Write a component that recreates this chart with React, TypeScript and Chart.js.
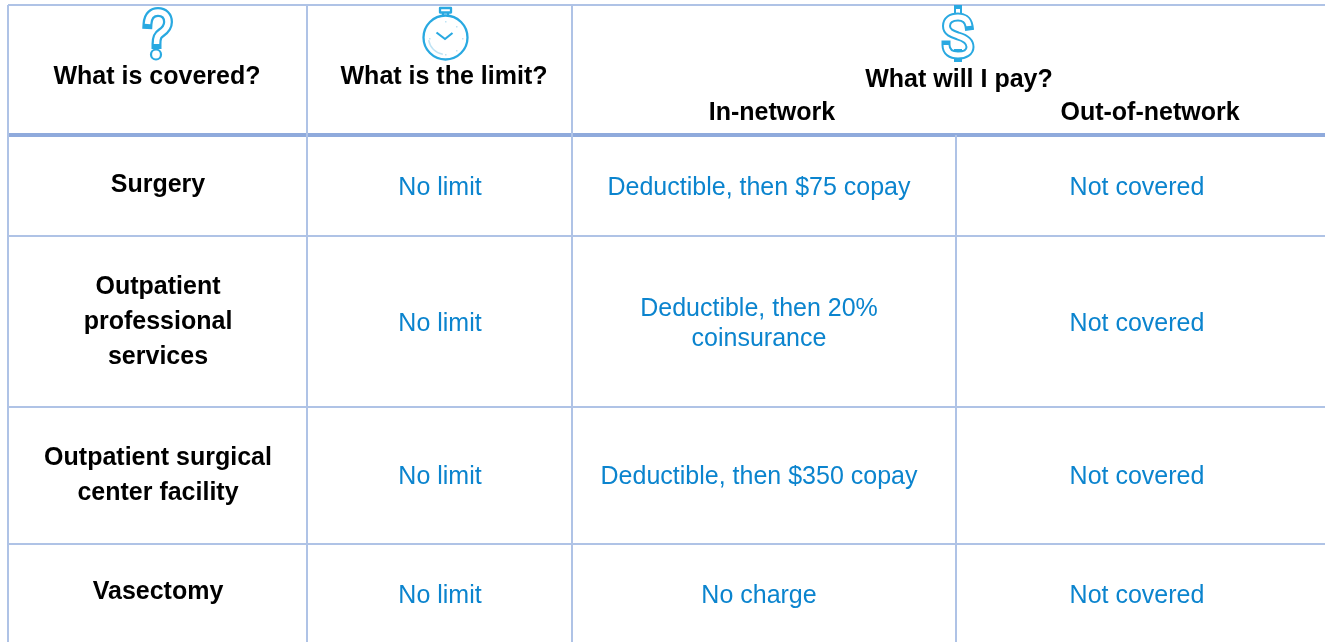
import React, { useEffect, useRef } from "react";
import { Chart, registerables } from "chart.js";

Chart.register(...registerables);

const W = 1325;
const H = 642;

// Table content
const headerQuestions = ["What is covered?", "What is the limit?", "What will I pay?"];
const networkLabels = ["In-network", "Out-of-network"];
const services = [["Surgery"], ["Outpatient", "professional", "services"], ["Outpatient surgical", "center facility"], ["Vasectomy"]];
const limits = ["No limit", "No limit", "No limit", "No limit"];
const inNetwork = [["Deductible, then $75 copay"], ["Deductible, then 20%", "coinsurance"], ["Deductible, then $350 copay"], ["No charge"]];
const outOfNetwork = ["Not covered", "Not covered", "Not covered", "Not covered"];

// Layout of the table on the hidden pixel scales
const FRAME_LEFT = 8;
const colEdges = [307, 572];
const innerEdge = 956;
const TOP = 5;
const HEAD_RULE = 135;
const rowRules = [236, 407, 544];
const LINE = "#AFC3E6";
const HEAVY = "#8FAADC";
const BLUE = "#0B84CE";
const ICON = "#29A9E1";
const FONT = '"Liberation Sans", Arial, sans-serif';

const serviceY = [[185], [287, 322, 357], [458, 493], [592]];
const inNetY = [[188], [309, 339], [477], [596]];
const plainY = [188, 324, 477, 596];

function seg(pts: number[][], color: string, width: number) {
  return {
    type: "line",
    data: pts.map(([x, y]) => ({ x, y })),
    borderColor: color,
    borderWidth: width,
    pointRadius: 0,
    tension: 0,
    borderCapStyle: "butt",
    fill: false,
    parsing: false,
  };
}

const tablePlugin = {
  id: "tableText",
  afterDatasetsDraw(chart: any) {
    const { ctx, scales } = chart;
    const X = (v: number) => scales.x.getPixelForValue(v);
    const Y = (v: number) => scales.y.getPixelForValue(v);
    ctx.save();
    ctx.textAlign = "center";
    ctx.textBaseline = "middle";
    ctx.filter = "blur(0.35px)";
    const text = (s: string, x: number, y: number, bold: boolean, color: string) => {
      ctx.font = `${bold ? "bold " : ""}25px ${FONT}`;
      ctx.fillStyle = color;
      ctx.fillText(s, X(x), Y(y));
    };
    text(headerQuestions[0], 157, 77, true, "#000");
    text(headerQuestions[1], 444, 77, true, "#000");
    text(headerQuestions[2], 959, 80, true, "#000");
    text(networkLabels[0], 772, 113, true, "#000");
    text(networkLabels[1], 1150, 113, true, "#000");
    services.forEach((lines, r) => lines.forEach((l, i) => text(l, 158, serviceY[r][i], true, "#000")));
    limits.forEach((l, r) => text(l, 440, plainY[r], false, BLUE));
    inNetwork.forEach((lines, r) => lines.forEach((l, i) => text(l, 759, inNetY[r][i], false, BLUE)));
    outOfNetwork.forEach((l, r) => text(l, 1137, plainY[r], false, BLUE));

    // Header icons, pen strokes with a white core to give the outlined look
    ctx.filter = "blur(0.5px)";
    ctx.lineJoin = "round";
    const outlined = (d: string, outer: number, inner: number) => {
      const p = new Path2D(d);
      ctx.lineCap = "square";
      ctx.strokeStyle = ICON;
      ctx.lineWidth = outer;
      ctx.stroke(p);
      ctx.lineCap = "butt";
      ctx.strokeStyle = "#fff";
      ctx.lineWidth = inner;
      ctx.stroke(p);
    };
    // question mark
    outlined("M147.5 24 C148 15 153 12 158 12 C164 12 168 16 168 22 C168 28 164 31 161 33 C158 35 156.5 37 156.5 44", 10, 5.5);
    ctx.strokeStyle = ICON;
    ctx.lineWidth = 2.2;
    ctx.beginPath();
    ctx.arc(156, 54.5, 5, 0, Math.PI * 2);
    ctx.stroke();
    // stopwatch
    ctx.lineWidth = 2.3;
    ctx.beginPath();
    ctx.arc(445.5, 37.5, 22, 0, Math.PI * 2);
    ctx.stroke();
    ctx.strokeRect(440, 8, 11, 4.5);
    ctx.beginPath();
    ctx.moveTo(443, 13);
    ctx.lineTo(443, 16);
    ctx.moveTo(448, 13);
    ctx.lineTo(448, 16);
    ctx.stroke();
    ctx.lineWidth = 2.2;
    ctx.beginPath();
    ctx.moveTo(436.5, 32.5);
    ctx.lineTo(445, 39);
    ctx.lineTo(452.5, 33);
    ctx.stroke();
    ctx.strokeStyle = "#BFE3F4";
    ctx.lineWidth = 1.5;
    ctx.beginPath();
    ctx.arc(445.5, 37.5, 17, Math.PI * 0.55, Math.PI * 0.95);
    ctx.stroke();
    ctx.fillStyle = "#BFE3F4";
    [[445, 21], [445, 54], [462, 38], [429, 38], [456, 26], [456, 50]].forEach(([a, b]) => ctx.fillRect(a, b, 1.5, 1.5));
    // dollar sign
    outlined("M958 9 L958 14 M958 53 L958 58", 8, 4);
    outlined("M969 26 C968 19 963 17 958 17 C951 17 946.5 20 946.5 26 C946.5 32 952 34 958 36 C965 38 970 41 970 47 C970 52 965 55 958 55 C951 55 946 52 946 45", 9, 5);
    ctx.restore();
  },
};

export default function App() {
  const ref = useRef<HTMLCanvasElement>(null);
  useEffect(() => {
    const datasets: any[] = [
      seg([[FRAME_LEFT, TOP], [W, TOP]], LINE, 2),
      seg([[FRAME_LEFT, TOP], [FRAME_LEFT, H]], LINE, 2),
      ...colEdges.map((x) => seg([[x, TOP], [x, H]], LINE, 2)),
      seg([[innerEdge, HEAD_RULE], [innerEdge, H]], LINE, 2),
      ...rowRules.map((y) => seg([[FRAME_LEFT, y], [W, y]], LINE, 2)),
      seg([[FRAME_LEFT, HEAD_RULE], [W, HEAD_RULE]], HEAVY, 4),
    ];
    const chart = new Chart(ref.current as HTMLCanvasElement, {
      type: "line",
      data: { datasets },
      options: {
        animation: false,
        responsive: false,
        devicePixelRatio: 1,
        layout: { padding: 0 },
        clip: false,
        scales: {
          x: { type: "linear", min: 0, max: W, display: false },
          y: { type: "linear", min: 0, max: H, reverse: true, display: false },
        },
        plugins: { legend: { display: false }, tooltip: { enabled: false }, title: { display: false } },
      },
      plugins: [tablePlugin],
    } as any);
    return () => chart.destroy();
  }, []);
  return (
    <div style={{ position: "fixed", left: 0, top: 0, width: W, height: H, background: "#fff" }}>
      <canvas ref={ref} width={W} height={H} style={{ display: "block" }} />
    </div>
  );
}
